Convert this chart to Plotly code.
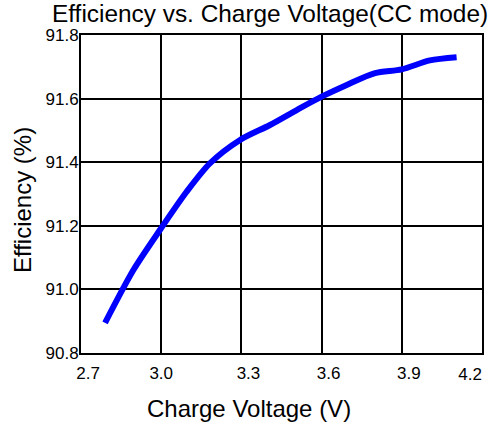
import plotly.graph_objects as go

charge_voltage = [2.79, 2.896, 2.997, 3.095, 3.183, 3.295, 3.407, 3.507, 3.60, 3.694, 3.80, 3.90, 4.005, 4.105]
efficiency = [90.895, 91.061, 91.189, 91.307, 91.397, 91.47, 91.517, 91.564, 91.606, 91.643, 91.68, 91.692, 91.72, 91.73]

NB = "\u00a0\u00a0\u00a0"
x_ticks = [2.7, 3.0, 3.3, 3.6, 3.9]
x_tick_labels = [NB + "2.7", "3.0", NB + "3.3", NB + "3.6", NB + "3.9"]
x_end_tick = [4.2]
x_end_label = ["4.2"]
y_ticks = [90.8, 91.0, 91.2, 91.4, 91.6, 91.8]
y_tick_labels = ["90.8", "91.0", "91.2", "91.4", "91.6", "91.8"]

title_text = "Efficiency vs. Charge Voltage(CC mode)"
x_title = "Charge Voltage (V)"
y_title = "Efficiency (%)"

FONT = "Liberation Sans, Arial, sans-serif"
X_RANGE = [2.7, 4.2]

fig = go.Figure()
fig.add_trace(go.Scatter(
    x=charge_voltage, y=efficiency, mode="lines",
    line=dict(color="#0000ff", width=6, shape="spline", smoothing=0.8),
    showlegend=False, hoverinfo="skip",
))
fig.add_trace(go.Scatter(x=[None], y=[None], xaxis="x2", mode="lines",
                         showlegend=False, hoverinfo="skip"))

fig.update_layout(
    width=491, height=428,
    margin=dict(l=81, r=9, t=35, b=75, autoexpand=False),
    paper_bgcolor="white", plot_bgcolor="white",
    font=dict(family=FONT, color="black"),
    showlegend=False,
    xaxis2=dict(
        overlaying="x", side="bottom", range=X_RANGE,
        tickvals=x_end_tick, ticktext=x_end_label,
        showgrid=False, showline=False, zeroline=False, ticks="",
        ticklabelposition="outside left", ticklabelstandoff=9,
        automargin=False, ticklabeloverflow="allow",
        tickfont=dict(size=17, family=FONT, color="black"),
    ),
)

fig.update_layout(xaxis=dict(
    range=X_RANGE, tickvals=x_ticks + x_end_tick, ticktext=x_tick_labels + [""],
    showgrid=True, gridcolor="black", gridwidth=2,
    showline=True, linecolor="black", linewidth=2, mirror=True,
    zeroline=False, ticks="", ticklabelstandoff=4, automargin=False,
    ticklabeloverflow="allow",
    tickfont=dict(size=17, family=FONT, color="black"),
))
fig.update_yaxes(
    range=[90.8, 91.8], tickvals=y_ticks, ticktext=y_tick_labels,
    showgrid=True, gridcolor="black", gridwidth=2,
    showline=True, linecolor="black", linewidth=2, mirror=True,
    zeroline=False, ticks="", ticklabelstandoff=-3, automargin=False,
    ticklabeloverflow="allow",
    tickfont=dict(size=17, family=FONT, color="black"),
)

fig.add_annotation(text=title_text, xref="paper", yref="paper",
                   x=0.471, y=1.069, xanchor="center", yanchor="middle",
                   showarrow=False, font=dict(size=24.4, family=FONT, color="black"))
fig.add_annotation(text=x_title, xref="paper", yref="paper",
                   x=0.42, y=-0.176, xanchor="center", yanchor="middle",
                   showarrow=False, font=dict(size=24, family=FONT, color="black"))
fig.add_annotation(text=y_title, xref="paper", yref="paper",
                   x=-0.147, y=0.481, xanchor="center", yanchor="middle", textangle=-90,
                   showarrow=False, font=dict(size=24, family=FONT, color="black"))

fig.write_html("out.html", config={"displayModeBar": False},
               post_script="document.body.style.margin='0';document.body.style.overflow='hidden';")
